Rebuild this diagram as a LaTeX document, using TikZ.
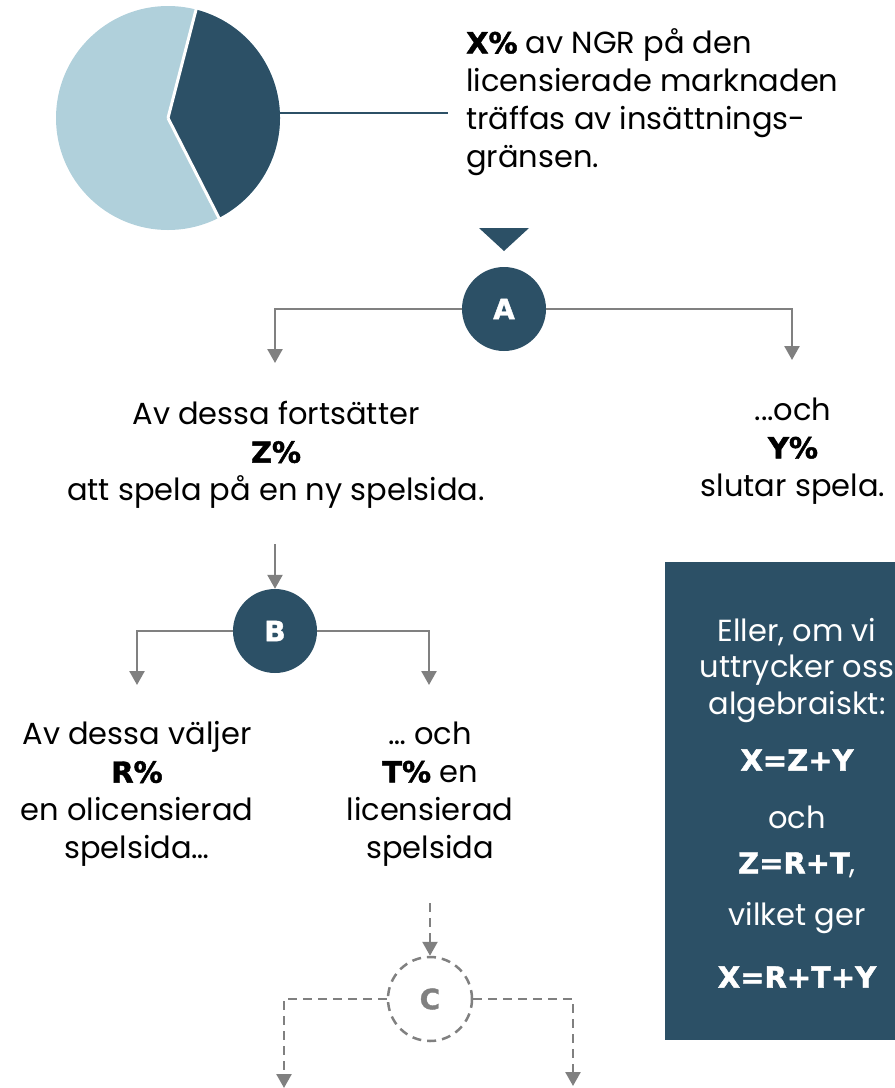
\documentclass[tikz,border=0pt]{standalone}
\usepackage{fontspec}
\setmainfont{Poppins}
\newfontfamily\hvbk{DejaVu Sans}[BoldFeatures={FakeBold=1.5}]
\newcommand\hvb[1]{{\hvbk\bfseries\fontsize{29}{38}\selectfont #1}}
\usetikzlibrary{arrows.meta}
\definecolor{dk}{HTML}{2C5066}
\definecolor{lt}{HTML}{B0D0DB}
\definecolor{gr}{HTML}{808080}
\begin{document}
\begin{tikzpicture}[x=1pt,y=-1pt,
 txt/.style={font=\fontsize{30.5}{38}\selectfont, align=center, inner sep=0pt},
 boxtxt/.style={font=\fontsize{30.5}{38}\selectfont, text=white, inner sep=0pt},
 circ/.style={circle, fill=dk, minimum size=84pt, inner sep=0pt, text=white, font=\hvbk\bfseries\fontsize{28}{30}\selectfont},
 dcirc/.style={circle, draw=gr, line width=2.5pt, dash pattern=on 9pt off 6pt, minimum size=84pt, inner sep=0pt, text=gr, font=\hvbk\bfseries\fontsize{28}{30}\selectfont},
 conn/.style={draw=gr, line width=2.5pt, -{Triangle[width=15pt,length=14pt]}},
 dconn/.style={conn, dash pattern=on 9pt off 6pt},
]
\useasboundingbox (0,0) rectangle (895,1088);
% pie
\coordinate (pc) at (168,118);
\fill[lt] (pc) circle (112);
\fill[dk] (pc) -- ++(-75.5:112) arc (-75.5:63:112) -- cycle;
\draw[white, line width=3pt] (pc) -- ++(-75.5:113);
\draw[white, line width=3pt] (pc) -- ++(63:113);
\coordinate (l1) at (279,113);
\coordinate (l2) at (448,113);
\draw[dk, line width=1.2pt] (l1) -- (l2);
\node[txt, align=left, anchor=west] (top) at (466,102) {\hvb{X\%} av NGR på den\\licensierade marknaden\\träffas av insättnings-\\gränsen.};
% triangle
\fill[dk] (479,228) -- (529,228) -- (504,251) -- cycle;
% A
\node[circ] (A) at (504,309) {A};
\coordinate (aL) at (275,363);
\coordinate (aR) at (792,360);
\draw[conn] (A.west) -| (aL);
\draw[conn] (A.east) -| (aR);
\node[txt] (t1) at (276,455) {Av dessa fortsätter\\\hvb{Z\%}\\att spela på en ny spelsida.};
\node[txt] (t2) at (793,451) {...och\\\hvb{Y\%}\\slutar spela.};
% B
\node[circ] (B) at (275,631) {B};
\coordinate (zT) at (275,544);
\draw[conn] (zT) -- (B.north);
\coordinate (bL) at (137,685);
\coordinate (bR) at (429,685);
\draw[conn] (B.west) -| (bL);
\draw[conn] (B.east) -| (bR);
\node[txt] (t3) at (137,794) {Av dessa väljer\\\hvb{R\%}\\en olicensierad\\spelsida…};
\node[txt] (t4) at (430,794) {… och\\\hvb{T\%} en\\licensierad\\spelsida};
% C
\node[dcirc] (C) at (430,999) {C};
\coordinate (cT) at (430,903);
\draw[dconn] (cT) -- (C.north);
\coordinate (cL) at (284,1088);
\coordinate (cR) at (573,1086);
\draw[dconn] (C.west) -| (cL);
\draw[dconn] (C.east) -| (cR);
% box
\node[fill=dk, minimum width=230pt, minimum height=478pt, inner sep=0pt, anchor=north west] (box) at (665,562) {};
\node[boxtxt] (e1) at (797,632) {Eller, om vi};
\node[boxtxt] (e2) at (797,670) {uttrycker oss};
\node[boxtxt] (e3) at (797,707) {algebraiskt:};
\node[boxtxt] (e4) at (797,760) {\hvb{X=Z+Y}};
\node[boxtxt] (e5) at (797,817) {och};
\node[boxtxt] (e6) at (797,865) {\hvb{Z=R+T},};
\node[boxtxt] (e7) at (797,918) {vilket ger};
\node[boxtxt] (e8) at (797,977) {\hvb{X=R+T+Y}};
\end{tikzpicture}
\end{document}
